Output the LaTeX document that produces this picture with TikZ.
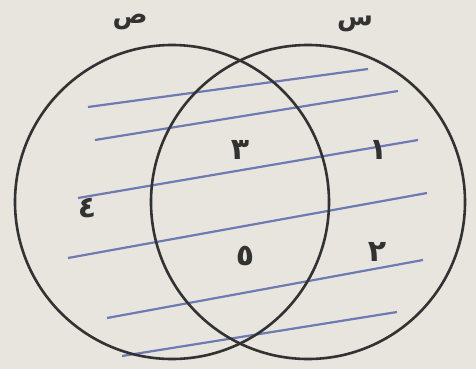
\documentclass[tikz,border=0pt]{standalone}
\usepackage{fontspec}
\newfontfamily\arabicfont[Script=Arabic]{DejaVu Sans}
\TeXXeTstate=1
\usepackage{tikz}
\usetikzlibrary{positioning}

\definecolor{paper}{RGB}{232,229,223}
\definecolor{ink}{RGB}{50,50,50}
\definecolor{hatchblue}{RGB}{110,122,178}

\tikzset{
  setcircle/.style={draw=ink, line width=2.6pt, circle, minimum size=314pt, inner sep=0pt},
  hatch/.style={draw=hatchblue, line width=2.2pt},
  digit/.style={text=ink, font=\arabicfont\bfseries\fontsize{30}{30}\selectfont},
  setname/.style={text=ink, font=\arabicfont\bfseries\fontsize{26}{26}\selectfont}
}

\begin{document}
\begin{tikzpicture}[x=1pt, y=-1pt]
    % Background
    \fill[paper] (0,0) rectangle (476,369);
    \useasboundingbox (0,0) rectangle (476,369);

    % Hatching
    \foreach \ax/\ay/\bx/\by in {88/107/368/69, 95/140/398/91, 78/198/418/140,
                                 68/258/427/193, 107/318/423/260, 122/356/397/312} {
      \draw[hatch] (\ax,\ay) -- (\bx,\by);
    }

    % Sets
    \node[setcircle] (sad) at (172,202) {};
    \node[setcircle] (sin) at (308,202) {};

    % Set names
    \node[setname] (sadname) at (130,22) {\beginR ص\endR};
    \node[setname] (sinname) at (355,24) {\beginR س\endR};

    % Elements
    \node[digit] (three) at (240,150) {٣};
    \node[digit] (one) at (378,150) {١};
    \node[digit] (four) at (87,208) {٤};
    \node[digit] (five) at (245,256) {٥};
    \node[digit] (two) at (377,252) {٢};
  \end{tikzpicture}
\end{document}
